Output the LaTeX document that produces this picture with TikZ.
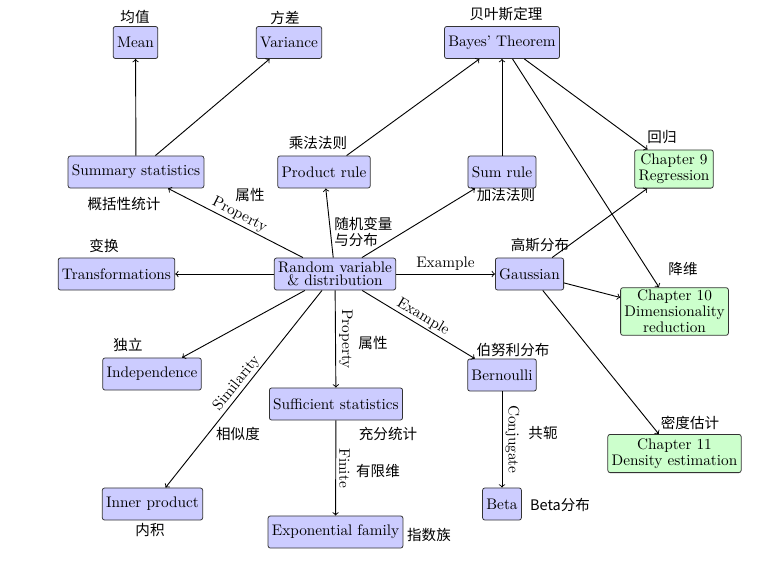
\documentclass[tikz,border=0pt]{standalone}
\usepackage{fontspec}
\newfontfamily\zhfont{Noto Sans CJK SC}
\begin{document}
\begin{tikzpicture}[x=0.654pt,y=-0.654pt,
    concept/.style={draw=black!80, fill=blue!20, rounded corners=1.5pt, line width=0.5pt,
      inner xsep=2.5pt, inner ysep=1.5pt, minimum height=21pt, align=center},
    chapter/.style={concept, fill=green!20, font=\fontsize{10}{10.5}\selectfont},
    zh/.style={font=\zhfont\fontsize{9.5}{11}\selectfont, inner sep=0pt},
    link/.style={->, line width=0.6pt}]
    \useasboundingbox (0,0) rectangle (760,568);

    % concepts
    \node[concept] (mean) at (135.5,42.5) {Mean};
    \node[concept] (variance) at (289,42.5) {Variance};
    \node[concept] (bayes) at (502,42.5) {Bayes' Theorem};
    \node[concept] (summary) at (136,172) {Summary statistics};
    \node[concept] (product) at (324,172) {Product rule};
    \node[concept] (sum) at (502,172) {Sum rule};
    \node[concept] (transf) at (116.5,274) {Transformations};
    \node[concept, font=\fontsize{10}{8.5}\selectfont] (rv) at (335,274) {Random variable\\\& distribution};
    \node[concept] (gauss) at (529.5,274) {Gaussian};
    \node[concept] (indep) at (152,374) {Independence};
    \node[concept] (suff) at (336,404) {Sufficient statistics};
    \node[concept] (bern) at (502,375) {Bernoulli};
    \node[concept] (inner) at (152.5,504) {Inner product};
    \node[concept] (expfam) at (335.5,532) {Exponential family};
    \node[concept] (beta) at (502,504) {Beta};

    % chapters
    \node[chapter, minimum height=25pt] (ch9) at (674,169) {Chapter 9\\Regression};
    \node[chapter] (ch10) at (674.5,311.5) {Chapter 10\\Dimensionality\\reduction};
    \node[chapter, minimum height=25pt] (ch11) at (674.5,453.5) {Chapter 11\\Density estimation};

    % chinese labels
    \node[zh] (zh-mean) at (135,17) {均值};
    \node[zh] (zh-var) at (285,18) {方差};
    \node[zh] (zh-bayes) at (506,14) {贝叶斯定理};
    \node[zh] (zh-prod) at (318,143) {乘法法则};
    \node[zh] (zh-sum) at (506,195) {加法法则};
    \node[zh] (zh-ch9) at (662,137) {回归};
    \node[zh] (zh-summ) at (124,204) {概括性统计};
    \node[zh] (zh-prop1) at (250,195) {属性};
    \node[zh, align=left, anchor=west] (zh-rv) at (334,232) {随机变量\\与分布};
    \node[zh] (zh-transf) at (104,246) {变换};
    \node[zh] (zh-gauss) at (540,245) {高斯分布};
    \node[zh] (zh-ch10) at (683,269) {降维};
    \node[zh] (zh-indep) at (128,345) {独立};
    \node[zh] (zh-prop2) at (373,343) {属性};
    \node[zh] (zh-bern) at (513,350) {伯努利分布};
    \node[zh] (zh-sim) at (238,434) {相似度};
    \node[zh] (zh-suff) at (388,434) {充分统计};
    \node[zh] (zh-conj) at (543,433) {共轭};
    \node[zh] (zh-ch11) at (690,423) {密度估计};
    \node[zh] (zh-finite) at (378,471) {有限维};
    \node[zh] (zh-inner) at (150,530) {内积};
    \node[zh] (zh-exp) at (429,535) {指数族};
    \node[zh] (zh-beta) at (560,505) {Beta分布};

    % links
    \draw[link] (summary) -- (mean);
    \draw[link] (summary) -- (variance);
    \draw[link] (product) -- (bayes);
    \draw[link] (sum) -- (bayes);
    \draw[link] (bayes) -- (ch9);
    \draw[link] (bayes) -- (ch10);
    \draw[link] (gauss) -- (ch9);
    \draw[link] (gauss) -- (ch10);
    \draw[link] (gauss) -- (ch11);
    \draw[link] (rv) -- (summary) node[midway, sloped, above, inner sep=1pt] {Property};
    \draw[link] (rv) -- (product);
    \draw[link] (rv) -- (sum);
    \draw[link] (rv) -- (transf);
    \draw[link] (rv) -- (gauss) node[midway, above, inner sep=2pt] {Example};
    \draw[link] (rv) -- (bern) node[midway, sloped, above, inner sep=1pt] {Example};
    \draw[link] (rv) -- (indep);
    \draw[link] (rv) -- (suff) node[midway, rotate=-90, anchor=south, inner sep=2pt] {Property};
    \draw[link] (rv) -- (inner) node[midway, sloped, above, inner sep=1pt] {Similarity};
    \draw[link] (suff) -- (expfam) node[midway, rotate=-90, anchor=south, inner sep=2pt] {Finite};
    \draw[link] (bern) -- (beta) node[midway, rotate=-90, anchor=south, inner sep=2pt] {Conjugate};
\end{tikzpicture}
\end{document}
